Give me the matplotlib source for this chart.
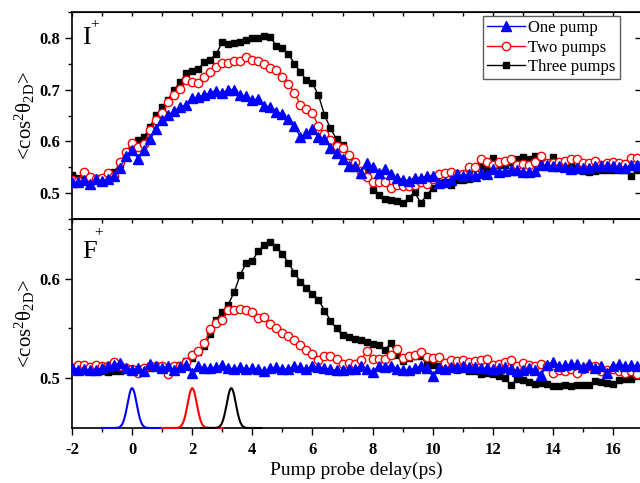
import matplotlib
matplotlib.use("Agg")
import matplotlib.pyplot as plt
import numpy as np

plt.rcParams["font.family"] = ["Liberation Serif", "DejaVu Serif"]
plt.rcParams["mathtext.fontset"] = "custom"
plt.rcParams["mathtext.rm"] = "Liberation Serif"
plt.rcParams["mathtext.it"] = "Liberation Serif:italic"
plt.rcParams["mathtext.bf"] = "Liberation Serif:bold"
plt.rcParams["axes.unicode_minus"] = False

# pump-probe delay grid (ps)
DELAY = [
    -2.0, -1.8, -1.6, -1.4, -1.2, -1.0, -0.8, -0.6, -0.4, -0.2,
    0.0, 0.2, 0.4, 0.6, 0.8, 1.0, 1.2, 1.4, 1.6, 1.8,
    2.0, 2.2, 2.4, 2.6, 2.8, 3.0, 3.2, 3.4, 3.6, 3.8,
    4.0, 4.2, 4.4, 4.6, 4.8, 5.0, 5.2, 5.4, 5.6, 5.8,
    6.0, 6.2, 6.4, 6.6, 6.8, 7.0, 7.2, 7.4, 7.6, 7.8,
    8.0, 8.2, 8.4, 8.6, 8.8, 9.0, 9.2, 9.4, 9.6, 9.8,
    10.0, 10.2, 10.4, 10.6, 10.8, 11.0, 11.2, 11.4, 11.6, 11.8,
    12.0, 12.2, 12.4, 12.6, 12.8, 13.0, 13.2, 13.4, 13.6, 13.8,
    14.0, 14.2, 14.4, 14.6, 14.8, 15.0, 15.2, 15.4, 15.6, 15.8,
    16.0, 16.2, 16.4, 16.6, 16.8,
]

# I+ fragment, <cos^2 theta_2D>
I_ONE = [
    0.521, 0.521, 0.526, 0.517, 0.528, 0.523, 0.528, 0.533, 0.549, 0.571,
    0.584, 0.566, 0.583, 0.604, 0.623, 0.641, 0.651, 0.658, 0.667, 0.670,
    0.683, 0.686, 0.689, 0.694, 0.698, 0.693, 0.700, 0.700, 0.689, 0.687,
    0.680, 0.682, 0.668, 0.667, 0.657, 0.652, 0.643, 0.630, 0.608, 0.616,
    0.623, 0.609, 0.604, 0.587, 0.577, 0.566, 0.552, 0.552, 0.539, 0.558,
    0.551, 0.539, 0.547, 0.536, 0.530, 0.526, 0.524, 0.530, 0.530, 0.533,
    0.533, 0.520, 0.522, 0.526, 0.536, 0.533, 0.536, 0.533, 0.539, 0.536,
    0.547, 0.541, 0.542, 0.544, 0.545, 0.540, 0.540, 0.542, 0.554, 0.554,
    0.552, 0.552, 0.550, 0.547, 0.549, 0.549, 0.549, 0.552, 0.553, 0.552,
    0.553, 0.550, 0.549, 0.554, 0.555,
]
I_TWO = [
    0.525, 0.524, 0.540, 0.531, 0.527, 0.530, 0.539, 0.533, 0.560, 0.580,
    0.597, 0.590, 0.595, 0.622, 0.641, 0.654, 0.676, 0.689, 0.702, 0.718,
    0.715, 0.712, 0.724, 0.734, 0.744, 0.752, 0.752, 0.756, 0.756, 0.763,
    0.758, 0.755, 0.749, 0.741, 0.737, 0.725, 0.711, 0.694, 0.670, 0.662,
    0.655, 0.629, 0.614, 0.603, 0.591, 0.588, 0.574, 0.561, 0.542, 0.531,
    0.521, 0.521, 0.521, 0.510, 0.515, 0.513, 0.513, 0.515, 0.521, 0.518,
    0.527, 0.537, 0.539, 0.540, 0.536, 0.537, 0.551, 0.551, 0.565, 0.561,
    0.555, 0.561, 0.563, 0.565, 0.554, 0.556, 0.554, 0.560, 0.571, 0.558,
    0.558, 0.561, 0.563, 0.565, 0.565, 0.558, 0.558, 0.563, 0.554, 0.558,
    0.561, 0.558, 0.557, 0.568, 0.568,
]
I_THREE = [
    0.535, 0.529, 0.529, 0.531, 0.529, 0.529, 0.539, 0.541, 0.557, 0.579,
    0.594, 0.602, 0.609, 0.628, 0.651, 0.666, 0.680, 0.700, 0.715, 0.732,
    0.736, 0.740, 0.753, 0.758, 0.769, 0.792, 0.788, 0.790, 0.792, 0.796,
    0.800, 0.800, 0.803, 0.801, 0.785, 0.780, 0.769, 0.750, 0.734, 0.718,
    0.712, 0.689, 0.651, 0.625, 0.604, 0.593, 0.572, 0.553, 0.535, 0.545,
    0.506, 0.497, 0.489, 0.486, 0.485, 0.480, 0.491, 0.502, 0.481, 0.496,
    0.510, 0.520, 0.522, 0.515, 0.526, 0.525, 0.528, 0.548, 0.552, 0.547,
    0.568, 0.554, 0.554, 0.561, 0.566, 0.570, 0.566, 0.571, 0.561, 0.559,
    0.570, 0.558, 0.555, 0.552, 0.548, 0.542, 0.540, 0.542, 0.545, 0.545,
    0.545, 0.545, 0.544, 0.534, 0.544,
]

# F+ fragment, <cos^2 theta_2D>
F_ONE = [
    0.510, 0.508, 0.509, 0.508, 0.508, 0.510, 0.512, 0.513, 0.515, 0.510,
    0.508, 0.510, 0.507, 0.514, 0.512, 0.510, 0.512, 0.508, 0.511, 0.513,
    0.505, 0.512, 0.510, 0.510, 0.511, 0.513, 0.510, 0.509, 0.511, 0.509,
    0.510, 0.509, 0.507, 0.510, 0.511, 0.509, 0.509, 0.512, 0.511, 0.509,
    0.512, 0.511, 0.510, 0.509, 0.508, 0.508, 0.509, 0.509, 0.512, 0.509,
    0.506, 0.512, 0.511, 0.512, 0.509, 0.508, 0.508, 0.510, 0.512, 0.510,
    0.502, 0.510, 0.509, 0.511, 0.511, 0.512, 0.511, 0.511, 0.510, 0.510,
    0.509, 0.510, 0.511, 0.509, 0.507, 0.508, 0.510, 0.508, 0.503, 0.513,
    0.516, 0.512, 0.513, 0.514, 0.514, 0.511, 0.514, 0.510, 0.512, 0.505,
    0.512, 0.514, 0.512, 0.513, 0.512,
]
F_TWO = [
    0.510, 0.513, 0.513, 0.511, 0.513, 0.512, 0.512, 0.516, 0.512, 0.510,
    0.509, 0.505, 0.510, 0.512, 0.512, 0.512, 0.504, 0.512, 0.512, 0.516,
    0.523, 0.527, 0.535, 0.549, 0.556, 0.559, 0.569, 0.569, 0.570, 0.569,
    0.567, 0.561, 0.562, 0.554, 0.550, 0.545, 0.542, 0.538, 0.533, 0.528,
    0.524, 0.518, 0.522, 0.522, 0.519, 0.514, 0.515, 0.514, 0.518, 0.527,
    0.519, 0.519, 0.519, 0.523, 0.529, 0.520, 0.522, 0.523, 0.526, 0.521,
    0.520, 0.521, 0.515, 0.518, 0.517, 0.518, 0.516, 0.517, 0.518, 0.519,
    0.513, 0.514, 0.516, 0.518, 0.512, 0.515, 0.513, 0.512, 0.514, 0.512,
    0.505, 0.508, 0.507, 0.509, 0.505, 0.509, 0.512, 0.512, 0.507, 0.508,
    0.509, 0.507, 0.505, 0.507, 0.504,
]
F_THREE = [
    0.511, 0.510, 0.510, 0.509, 0.508, 0.507, 0.506, 0.507, 0.507, 0.508,
    0.508, 0.509, 0.510, 0.510, 0.511, 0.509, 0.510, 0.511, 0.513, 0.517,
    0.520, 0.526, 0.532, 0.544, 0.559, 0.567, 0.574, 0.587, 0.604, 0.616,
    0.618, 0.628, 0.634, 0.637, 0.632, 0.625, 0.616, 0.606, 0.597, 0.591,
    0.585, 0.579, 0.568, 0.558, 0.550, 0.543, 0.541, 0.539, 0.538, 0.536,
    0.534, 0.533, 0.528, 0.535, 0.523, 0.517, 0.520, 0.522, 0.522, 0.515,
    0.513, 0.512, 0.511, 0.510, 0.508, 0.509, 0.507, 0.507, 0.504, 0.505,
    0.504, 0.502, 0.500, 0.493, 0.499, 0.498, 0.496, 0.494, 0.495, 0.494,
    0.492, 0.492, 0.493, 0.492, 0.493, 0.493, 0.493, 0.497, 0.496, 0.495,
    0.494, 0.498, 0.499, 0.499, 0.502,
]

LABELS = ["One pump", "Two pumps", "Three pumps"]
COLORS = ["#0000ff", "#ff0000", "#000000"]

# pump pulse markers drawn along the bottom of the F+ panel
PULSE_CENTER = [0.0, 2.0, 3.3]
PULSE_FWHM = 0.36
PULSE_BASE = 0.45
PULSE_PEAK = 0.49

W, H = 640, 483
fig = plt.figure(figsize=(W / 100, H / 100), dpi=100)
left = 72 / W
width = (641 - 72) / W
ax1 = fig.add_axes([left, 1 - 219 / H, width, 207 / H])
ax2 = fig.add_axes([left, 1 - 428 / H, width, 209 / H])


def draw_series(ax, ys):
    one, two, three = ys
    h3, = ax.plot(DELAY, three, "-s", color=COLORS[2], lw=1.0, ms=4.8,
                  mfc=COLORS[2], mec=COLORS[2], zorder=3)
    h2, = ax.plot(DELAY, two, "-o", color=COLORS[1], lw=1.0, ms=6,
                  mfc="white", mec=COLORS[1], mew=1.0, zorder=4)
    h1, = ax.plot(DELAY, one, "-^", color=COLORS[0], lw=1.0, ms=6.5,
                  mfc=COLORS[0], mec=COLORS[0], zorder=5)
    return [h1, h2, h3]


def style_axis(ax, ylim, majors, minors, show_xlabels):
    ax.set_xlim(-2, 16.93)
    ax.set_ylim(*ylim)
    ax.set_xticks(np.arange(-2, 17, 2))
    ax.set_xticks(np.arange(-2, 17, 1), minor=True)
    ax.set_yticks(majors)
    ax.set_yticks(minors, minor=True)
    ax.tick_params(which="major", direction="out", length=5, width=1.0,
                   labelsize=12, top=False, right=False,
                   labelbottom=show_xlabels)
    ax.tick_params(axis="x", which="major", pad=5)
    ax.tick_params(which="minor", direction="out", length=3, width=1.0,
                   top=False, right=False)
    for lab in ax.get_xticklabels() + ax.get_yticklabels():
        lab.set_fontweight("bold")
    for sp in ax.spines.values():
        sp.set_linewidth(1.2)
    ax.set_ylabel(r"<cos$^{2}$θ$_{\mathrm{2D}}$>", fontsize=15, labelpad=2)

    rax = ax.secondary_yaxis("right")
    rax.set_yticks(majors)
    rax.tick_params(direction="in", length=4, width=1.0, labelright=False)
    tax = ax.secondary_xaxis("top")
    tax.set_xticks(np.arange(-2, 17, 1))
    tax.tick_params(direction="in", length=3, width=1.0, labeltop=False)


handles = draw_series(ax1, (I_ONE, I_TWO, I_THREE))
draw_series(ax2, (F_ONE, F_TWO, F_THREE))

sigma = PULSE_FWHM / 2.3548
for c, col in zip(PULSE_CENTER, COLORS):
    t = np.linspace(c - 1.0, c + 1.0, 200)
    g = PULSE_BASE + (PULSE_PEAK - PULSE_BASE) * np.exp(-0.5 * ((t - c) / sigma) ** 2)
    ax2.plot(t, g, color=col, lw=1.5, zorder=6, clip_on=False)

style_axis(ax1, (0.45, 0.85), [0.5, 0.6, 0.7, 0.8], [0.45, 0.55, 0.65, 0.75, 0.85], False)
style_axis(ax2, (0.45, 0.66), [0.5, 0.6], [0.55, 0.65], True)
ax2.set_xlabel("Pump probe delay(ps)", fontsize=14, labelpad=3)
fig.align_ylabels([ax1, ax2])

# fragment labels
ax1.text(0.018, 0.845, "I", transform=ax1.transAxes, fontsize=19, va="baseline")
ax1.text(0.040, 0.94, "+", transform=ax1.transAxes, fontsize=11, ha="center", va="center")
ax2.text(0.018, 0.813, "F", transform=ax2.transAxes, fontsize=19, va="baseline")
ax2.text(0.047, 0.933, "+", transform=ax2.transAxes, fontsize=11, ha="center", va="center")

leg = ax1.legend(handles, LABELS, loc="upper right",
                 bbox_to_anchor=(620 / W, 1 - 16 / H), bbox_transform=fig.transFigure,
                 fontsize=12, frameon=True, fancybox=False, handlelength=2.3,
                 handletextpad=0.2, labelspacing=0.2, borderpad=0.25,
                 borderaxespad=0.0)
leg.get_frame().set_edgecolor("#333333")
leg.get_frame().set_linewidth(1.0)

fig.savefig("out.png", dpi=100)
